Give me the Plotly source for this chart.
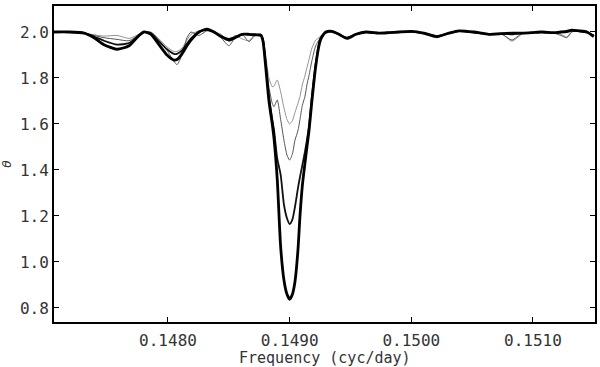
import plotly.graph_objects as go

freq = [0.147055, 0.147187, 0.147310, 0.147392, 0.147474, 0.147581, 0.147680, 0.147762, 0.147803, 0.147860,
        0.147926, 0.147992, 0.148049, 0.148074, 0.148115, 0.148156, 0.148189, 0.148255, 0.148320, 0.148378,
        0.148436, 0.148501, 0.148551, 0.148608, 0.148666, 0.148715, 0.148764, 0.148781, 0.148803, 0.148830,
        0.148857, 0.148871, 0.148898, 0.148926, 0.148953, 0.148978, 0.149000, 0.149023, 0.149044, 0.149068,
        0.149085, 0.149104, 0.149126, 0.149142, 0.149159, 0.149183, 0.149214, 0.149241, 0.149257, 0.149298,
        0.149348, 0.149405, 0.149471, 0.149545, 0.149627, 0.149734, 0.149816, 0.149898, 0.150005, 0.150104,
        0.150210, 0.150309, 0.150391, 0.150514, 0.150638, 0.150744, 0.150827, 0.150909, 0.150991, 0.151073,
        0.151172, 0.151229, 0.151278, 0.151320, 0.151377, 0.151443, 0.151500]

theta_a = [2.000, 2.000, 1.995, 1.988, 1.982, 1.985, 1.972, 1.990, 2.000, 2.000,
           1.970, 1.935, 1.915, 1.915, 1.930, 1.965, 1.990, 2.005, 2.010, 2.000,
           1.990, 1.960, 1.985, 1.970, 1.962, 1.990, 1.992, 1.975, 1.900, 1.800,
           1.762, 1.765, 1.791, 1.740, 1.670, 1.620, 1.600, 1.615, 1.650, 1.690,
           1.720, 1.770, 1.810, 1.845, 1.880, 1.930, 1.965, 1.975, 1.985, 1.995,
           2.000, 1.990, 1.978, 1.990, 1.998, 1.993, 1.997, 2.000, 2.000, 1.990,
           1.978, 1.993, 2.003, 1.997, 1.990, 1.992, 1.960, 1.990, 1.995, 2.000,
           1.995, 1.990, 1.978, 2.003, 2.005, 1.998, 1.985]

theta_b = [2.000, 2.000, 1.995, 1.985, 1.975, 1.968, 1.962, 1.988, 2.000, 1.995,
           1.960, 1.920, 1.872, 1.858, 1.900, 1.975, 2.000, 1.985, 2.005, 2.000,
           1.975, 1.940, 1.975, 1.990, 1.958, 1.985, 1.990, 1.970, 1.880, 1.760,
           1.690, 1.675, 1.704, 1.620, 1.530, 1.465, 1.443, 1.470, 1.530, 1.570,
           1.620, 1.680, 1.720, 1.770, 1.810, 1.875, 1.940, 1.965, 1.980, 1.995,
           2.000, 1.990, 1.975, 1.990, 1.998, 1.994, 1.997, 2.000, 2.000, 1.992,
           1.975, 1.995, 2.003, 1.997, 1.988, 1.990, 1.965, 1.993, 1.996, 2.000,
           1.995, 1.985, 1.975, 2.000, 2.005, 1.998, 1.985]

theta_c = [2.000, 2.000, 1.995, 1.980, 1.962, 1.945, 1.952, 1.985, 2.000, 1.995,
           1.960, 1.925, 1.905, 1.905, 1.920, 1.950, 1.972, 2.000, 2.010, 2.000,
           1.982, 1.970, 1.978, 1.990, 1.990, 1.988, 1.985, 1.965, 1.860, 1.720,
           1.620, 1.575, 1.450, 1.380, 1.250, 1.190, 1.165, 1.185, 1.240, 1.320,
           1.370, 1.420, 1.480, 1.530, 1.590, 1.720, 1.860, 1.950, 1.975, 2.000,
           2.003, 1.990, 1.975, 1.990, 2.000, 1.995, 1.997, 2.000, 2.002, 1.995,
           1.982, 1.995, 2.004, 1.998, 1.992, 1.993, 1.990, 1.995, 1.997, 2.000,
           1.995, 1.998, 2.000, 2.006, 2.004, 1.998, 1.985]

theta_d = [2.000, 2.000, 1.995, 1.975, 1.945, 1.925, 1.940, 1.985, 2.000, 1.990,
           1.945, 1.900, 1.878, 1.880, 1.905, 1.940, 1.965, 2.000, 2.012, 2.000,
           1.980, 1.965, 1.975, 1.990, 1.990, 1.988, 1.985, 1.960, 1.850, 1.700,
           1.600, 1.540, 1.360, 1.067, 0.922, 0.860, 0.838, 0.860, 0.915, 1.050,
           1.200, 1.330, 1.430, 1.500, 1.570, 1.700, 1.850, 1.940, 1.970, 2.000,
           2.003, 1.990, 1.972, 1.990, 2.000, 1.995, 1.997, 2.000, 2.003, 1.995,
           1.980, 1.995, 2.005, 2.000, 1.990, 1.993, 1.995, 1.995, 1.997, 2.000,
           1.997, 2.000, 2.003, 2.008, 2.005, 2.000, 1.980]

x_ticks = [0.1480, 0.1490, 0.1500, 0.1510]
x_ticklabels = ["0.1480", "0.1490", "0.1500", "0.1510"]
y_ticks = [0.8, 1.0, 1.2, 1.4, 1.6, 1.8, 2.0]
y_ticklabels = ["0.8", "1.0", "1.2", "1.4", "1.6", "1.8", "2.0"]
x_title = "Frequency (cyc/day)"
y_title = "<i>θ</i>"

series = [
    (theta_a, "#777777", 0.8),
    (theta_b, "#555555", 1.0),
    (theta_c, "#111111", 1.8),
    (theta_d, "#000000", 2.8),
]

fig = go.Figure()
for ys, col, w in series:
    fig.add_trace(go.Scatter(x=freq, y=ys, mode="lines",
                             line=dict(color=col, width=w, shape="spline", smoothing=0.6),
                             showlegend=False, hoverinfo="skip"))

font = dict(family="DejaVu Sans Mono", size=16, color="#333333")
fig.update_layout(
    width=600, height=367,
    margin=dict(l=54, r=5, t=6, b=45),
    paper_bgcolor="white", plot_bgcolor="white",
    font=font,
)
fig.update_xaxes(range=[0.147063, 0.151510], tickvals=x_ticks, ticktext=x_ticklabels,
                 showline=True, linewidth=2, linecolor="black", mirror="ticks",
                 ticks="inside", ticklen=5, tickwidth=1, tickcolor="black",
                 showgrid=False, zeroline=False, automargin=False, ticklabelstandoff=3)
fig.update_yaxes(range=[0.739, 2.113], tickvals=y_ticks, ticktext=y_ticklabels,
                 showline=True, linewidth=2, linecolor="black", mirror="ticks",
                 ticks="inside", ticklen=5, tickwidth=1, tickcolor="black",
                 showgrid=False, zeroline=False, automargin=False,
                 title=dict(text=y_title, standoff=6, font=dict(family="DejaVu Sans", size=12, color="#333333")))
fig.add_annotation(text=x_title, xref="paper", yref="paper", x=0.5, y=0,
                   xanchor="center", yanchor="middle", yshift=-36, showarrow=False,
                   font=dict(family="DejaVu Sans Mono", size=15, color="#333333"))

fig.write_html("out.html", config={"displayModeBar": False},
               post_script="document.body.style.margin='0';document.body.style.overflow='hidden';")
